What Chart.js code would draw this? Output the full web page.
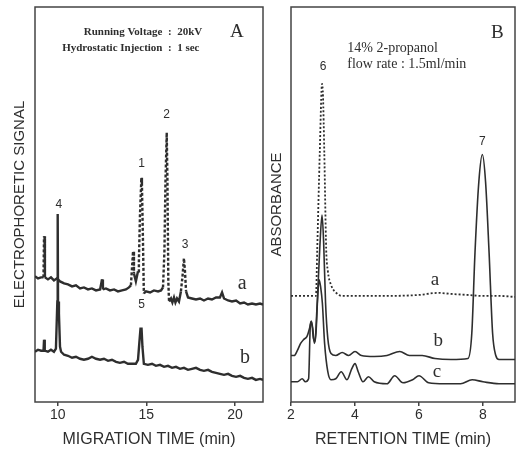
<!DOCTYPE html>
<html>
<head>
<meta charset="utf-8">
<script src="https://cdn.jsdelivr.net/npm/chart.js@4.4.0/dist/chart.umd.min.js"></script>
<style>
body { margin: 0; background: #fff; width: 517px; height: 449px; overflow: hidden; position: relative; }
#wrapA { position: absolute; left: 0; top: 0; width: 266px; height: 449px; }
#wrapB { position: absolute; left: 264px; top: 0; width: 253px; height: 449px; }
</style>
</head>
<body>
<div id="wrapA"><canvas id="chartA"></canvas></div>
<div id="wrapB"><canvas id="chartB"></canvas></div>
<script>
// Panel A: electropherograms (migration time, min)
const ticksA = [10, 15, 20];
const timeA1 = [8.72, 8.89, 9.06, 9.20, 9.23, 9.26, 9.28, 9.45, 9.62, 9.79, 9.96, 10.13, 10.36, 10.58, 10.81, 11.03, 11.26, 11.48, 11.71, 11.93, 12.16, 12.39, 12.50, 12.55, 12.72, 12.95, 13.18, 13.40, 13.63, 13.85, 14.02, 14.13, 14.25, 14.30, 14.41, 14.53, 14.58, 14.64, 14.72, 14.75, 14.81, 14.86, 14.98, 15.21, 15.43, 15.66, 15.83, 15.94, 16.02, 16.08, 16.15, 16.19, 16.24, 16.28, 16.39, 16.47, 16.56, 16.64, 16.73, 16.84, 16.95, 17.04, 17.12, 17.18, 17.24, 17.35, 17.57, 17.80, 18.03, 18.25, 18.48, 18.70, 18.93, 19.15, 19.27, 19.38, 19.61, 19.83, 20.06, 20.29, 20.51, 20.73, 20.96, 21.18, 21.41, 21.58];
const signalA1 = [125, 123, 124, 124, 165, 165, 124, 122, 124, 121, 123, 120, 118, 117, 115, 116, 113, 114, 112, 113, 111, 112, 122, 112, 113, 111, 112, 110, 111, 112, 114, 116, 150, 128, 120, 130, 140, 185, 223, 218, 160, 108, 110, 109, 111, 110, 111, 114, 150, 220, 268, 220, 120, 100, 103, 99, 104, 99, 103, 100, 110, 125, 143, 130, 110, 104, 103, 102, 103, 101, 103, 102, 104, 104, 109, 103, 101, 100, 101, 98, 99, 97, 98, 97, 98, 97];
const timeA2 = [8.72, 8.89, 9.06, 9.20, 9.23, 9.26, 9.28, 9.45, 9.62, 9.79, 9.90, 9.98, 10.00, 10.02, 10.07, 10.13, 10.19, 10.36, 10.58, 10.81, 11.03, 11.26, 11.48, 11.71, 11.93, 12.16, 12.39, 12.61, 12.84, 13.06, 13.29, 13.51, 13.74, 13.96, 14.19, 14.41, 14.53, 14.61, 14.67, 14.73, 14.78, 14.86, 15.09, 15.32, 15.54, 15.77, 16.00, 16.22, 16.45, 16.67, 16.90, 17.12, 17.35, 17.57, 17.80, 18.03, 18.25, 18.48, 18.70, 18.93, 19.15, 19.38, 19.61, 19.83, 20.06, 20.29, 20.51, 20.73, 20.96, 21.18, 21.41, 21.58];
const signalA2 = [50, 52, 51, 51, 62, 62, 51, 50, 52, 50, 53, 100, 187, 100, 88, 55, 50, 47, 46, 44, 45, 43, 42, 43, 45, 43, 42, 43, 41, 42, 40, 39, 40, 38, 38, 38, 42, 60, 73, 73, 55, 38, 37, 38, 36, 37, 35, 36, 34, 35, 33, 34, 32, 33, 34, 32, 31, 32, 30, 29, 28, 27, 28, 26, 25, 26, 24, 23, 24, 22, 23, 22];

// Panel B: HPLC chromatograms (retention time, min)
const ticksB = [2, 4, 6, 8];
const timeB1 = [2.0, 2.5, 2.75, 2.78, 2.82, 2.9, 2.97, 3.0, 3.04, 3.1, 3.15, 3.25, 3.45, 3.6, 4, 5, 6, 6.6, 7, 7.5, 8, 8.5, 9.0];
const absB1 = [105, 105, 105, 105, 151, 248, 315, 303, 248, 151, 130, 116, 107, 105, 105, 105, 106, 108, 107, 106, 105, 105, 104];
const timeB2 = [2.0, 2.1, 2.2, 2.3, 2.4, 2.5, 2.58, 2.63, 2.68, 2.73, 2.78, 2.85, 2.9, 2.97, 3.02, 3.08, 3.15, 3.25, 3.4, 3.6, 3.8, 4.0, 4.2, 4.6, 5.0, 5.4, 5.7, 6.1, 6.5, 7.0, 7.53, 7.65, 7.75, 7.87, 7.98, 8.08, 8.19, 8.3, 8.4, 8.5, 9.0];
const absB2 = [46, 46, 51, 58, 62, 65, 73, 80, 73, 58, 68, 118, 153, 185, 158, 98, 63, 48, 46, 49, 46, 50, 46, 45, 46, 50, 46, 46, 43, 42, 43, 68, 148, 218, 245, 218, 148, 68, 46, 42, 42];
const timeB3 = [2.0, 2.2, 2.35, 2.45, 2.55, 2.6, 2.64, 2.7, 2.75, 2.82, 2.88, 2.93, 2.98, 3.05, 3.15, 3.25, 3.4, 3.57, 3.75, 3.9, 4.0, 4.1, 4.25, 4.42, 4.6, 5.0, 5.24, 5.5, 5.8, 6.0, 6.3, 6.8, 7.3, 7.66, 8.0, 8.5, 9.0];
const absB3 = [20, 20, 23, 20, 23, 73, 80, 63, 60, 98, 121, 113, 98, 58, 30, 22, 23, 30, 22, 33, 38, 30, 20, 25, 20, 18, 26, 19, 22, 26, 19, 18, 18, 22, 20, 18, 18];

// peak numbers and trace letters, placed in data units
const labelsA = ['4', '1', '2', '3', '5'];
const labelTimeA = [10.07, 14.73, 16.14, 17.18, 14.73];
const labelSignalA = [196, 237, 286, 157, 97];
const traceNamesA = ['a', 'b'];
const traceNameTimeA = [20.4, 20.56];
const traceNameSignalA = [118, 44];

const labelsB = ['6', '7'];
const labelTimeB = [3.0, 7.98];
const labelSignalB = [332, 258];
const traceNamesB = ['a', 'b', 'c'];
const traceNameTimeB = [6.5, 6.6, 6.56];
const traceNameSignalB = [121, 60, 30];

const ink = '#2e2e2e';

function pts(xs, ys) {
    return xs.map((x, i) => ({ x: x, y: ys[i] }));
}

// box round the plot area
const framePlugin = {
    id: 'frame',
    beforeDatasetsDraw(chart) {
        const a = chart.chartArea, c = chart.ctx;
        c.save();
        c.strokeStyle = '#444';
        c.lineWidth = 1.5;
        c.strokeRect(a.left, a.top, a.right - a.left, a.bottom - a.top);
        c.restore();
    }
};

// text notes drawn at data coordinates
const notesPlugin = {
    id: 'notes',
    afterDatasetsDraw(chart, args, opts) {
        const c = chart.ctx, sx = chart.scales.x, sy = chart.scales.y;
        c.save();
        c.fillStyle = ink;
        c.textBaseline = 'middle';
        for (let n of opts.items || []) {
            c.font = n.font;
            c.textAlign = n.align || 'center';
            c.fillText(n.text, sx.getPixelForValue(n.x), sy.getPixelForValue(n.y));
        }
        c.restore();
    }
};

function noteList(texts, xs, ys, font) {
    return texts.map((t, i) => ({ text: t, x: xs[i], y: ys[i], font: font }));
}

function axisOptions(min, max, ticks, title) {
    return {
        type: 'linear', min: min, max: max,
        afterBuildTicks: s => { s.ticks = ticks.map(v => ({ value: v })); },
        grid: { display: true, drawOnChartArea: false, drawTicks: true, tickLength: 4, color: '#444', lineWidth: 1.5 },
        border: { display: false },
        ticks: { padding: 1, color: ink, font: { family: 'Liberation Sans', size: 14 } },
        title: { display: true, text: title, color: ink, font: { family: 'Liberation Sans', size: 16 }, padding: { top: 5, bottom: 0 } }
    };
}

function yOptions(max, title, pad) {
    return {
        min: 0, max: max,
        ticks: { display: false },
        grid: { display: false, drawTicks: false },
        border: { display: false },
        title: { display: true, text: title, color: ink, font: { family: 'Liberation Sans', size: 15 }, padding: pad }
    };
}

const steepDash = ctx => Math.abs(ctx.p1.y - ctx.p0.y) > 3 * Math.abs(ctx.p1.x - ctx.p0.x) + 6 ? [3, 2] : undefined;

new Chart(document.getElementById('chartA'), {
    type: 'line',
    data: {
        datasets: [
            { data: pts(timeA1, signalA1), borderColor: ink, borderWidth: 2.4, pointRadius: 0, tension: 0, segment: { borderDash: steepDash } },
            { data: pts(timeA2, signalA2), borderColor: ink, borderWidth: 2.4, pointRadius: 0, tension: 0 }
        ]
    },
    options: {
        responsive: true, maintainAspectRatio: false, animation: false,
        layout: { padding: { left: 7, top: 7, right: 3, bottom: 0 } },
        scales: {
            x: axisOptions(8.72, 21.58, ticksA, 'MIGRATION TIME (min)'),
            y: yOptions(393, 'ELECTROPHORETIC SIGNAL', { top: 4, bottom: 6 })
        },
        plugins: {
            legend: { display: false }, tooltip: { enabled: false },
            notes: {
                items: noteList(labelsA, labelTimeA, labelSignalA, '12px "Liberation Sans"')
                    .concat(noteList(traceNamesA, traceNameTimeA, traceNameSignalA, '20px "Liberation Serif"'))
                    .concat([
                        { text: 'Running Voltage  ', x: 16.22, y: 368, font: 'bold 11px "Liberation Serif"', align: 'right' },
                        { text: ':  20kV', x: 16.22, y: 368, font: 'bold 11px "Liberation Serif"', align: 'left' },
                        { text: 'Hydrostatic Injection  ', x: 16.22, y: 352, font: 'bold 11px "Liberation Serif"', align: 'right' },
                        { text: ':  1 sec', x: 16.22, y: 352, font: 'bold 11px "Liberation Serif"', align: 'left' },
                        { text: 'A', x: 20.11, y: 368, font: '19px "Liberation Serif"' }
                    ])
            }
        }
    },
    plugins: [framePlugin, notesPlugin]
});

new Chart(document.getElementById('chartB'), {
    type: 'line',
    data: {
        datasets: [
            { data: pts(timeB1, absB1), borderColor: ink, borderWidth: 1.8, borderDash: [2, 2], pointRadius: 0, cubicInterpolationMode: 'monotone' },
            { data: pts(timeB2, absB2), borderColor: ink, borderWidth: 1.6, pointRadius: 0, cubicInterpolationMode: 'monotone' },
            { data: pts(timeB3, absB3), borderColor: ink, borderWidth: 1.6, pointRadius: 0, cubicInterpolationMode: 'monotone' }
        ]
    },
    options: {
        responsive: true, maintainAspectRatio: false, animation: false,
        layout: { padding: { left: 0, top: 7, right: 2, bottom: 0 } },
        scales: {
            x: axisOptions(2, 9.0, ticksB, 'RETENTION TIME (min)'),
            y: yOptions(391, 'ABSORBANCE', { top: 4, bottom: 5 })
        },
        plugins: {
            legend: { display: false }, tooltip: { enabled: false },
            notes: {
                items: noteList(labelsB, labelTimeB, labelSignalB, '12px "Liberation Sans"')
                    .concat(noteList(traceNamesB, traceNameTimeB, traceNameSignalB, '19px "Liberation Serif"'))
                    .concat([
                        { text: '14% 2-propanol', x: 3.76, y: 350, font: '14px "Liberation Serif"', align: 'left' },
                        { text: 'flow rate : 1.5ml/min', x: 3.76, y: 334, font: '14px "Liberation Serif"', align: 'left' },
                        { text: 'B', x: 8.45, y: 365, font: '19px "Liberation Serif"' }
                    ])
            }
        }
    },
    plugins: [framePlugin, notesPlugin]
});
</script>
</body>
</html>
